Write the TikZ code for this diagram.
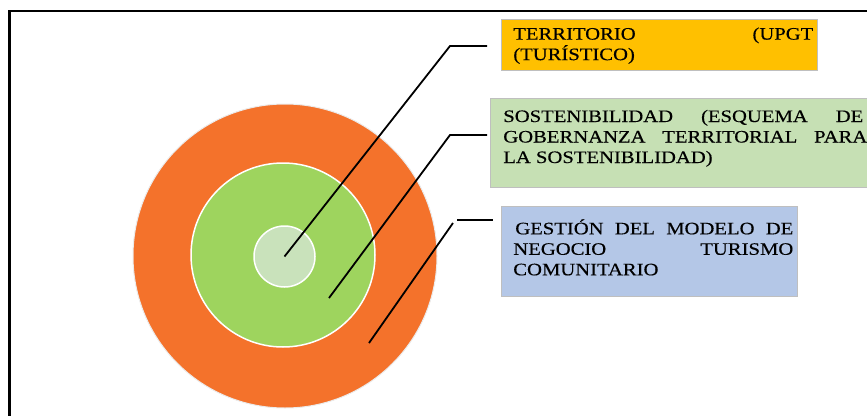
\documentclass[tikz,border=0pt]{standalone}
\usepackage{fontspec}
\setmainfont{Liberation Serif}[FakeStretch=1.18,FakeBold=0.4]
\definecolor{orangec}{HTML}{F4722B}
\definecolor{greenc}{HTML}{9ED45E}
\definecolor{palegreen}{HTML}{C9E2BB}
\definecolor{yellowc}{HTML}{FFC000}
\definecolor{boxgreen}{HTML}{C6E0B4}
\definecolor{boxblue}{HTML}{B4C7E7}
\begin{document}
\begin{tikzpicture}[x=1pt,y=-1pt,
  ring/.style={circle, inner sep=0pt, draw=white, line width=1.5pt},
  infobox/.style={rectangle, anchor=north west, inner sep=0pt, draw=black!25, line width=0.6pt,
     font=\fontsize{17.5pt}{20.5pt}\selectfont},
  leader/.style={draw=black, line width=1.8pt}]
\useasboundingbox (0,0) rectangle (867,415);
\clip (0,0) rectangle (867,415);
% frame
\draw[line width=2.5pt] (9.5,440) -- (9.5,11) -- (900,11);
% circles
\node[ring, fill=orangec, draw=black!8, line width=1pt, minimum size=304pt] (outer) at (285,256) {};
\node[ring, fill=greenc, minimum size=184pt] (middle) at (283,255) {};
\node[ring, fill=palegreen, minimum size=61pt] (inner) at (284.5,256.5) {};
% boxes
\node[infobox, fill=yellowc] (b1) at (501,19) {\parbox[t][51pt][t]{316pt}{\baselineskip=20.5pt
  \rule{0pt}{20.3pt}\hspace*{12pt}\makebox[300pt][s]{TERRITORIO (UPGT}\par
  \hspace*{12pt}(TURÍSTICO)}};
\node[infobox, fill=boxgreen] (b2) at (490,98) {\parbox[t][89pt][t]{400pt}{\baselineskip=20.5pt
  \rule{0pt}{23.7pt}\hspace*{13pt}\makebox[360pt][s]{SOSTENIBILIDAD (ESQUEMA DE}\par
  \hspace*{13pt}\makebox[364pt][s]{GOBERNANZA TERRITORIAL PARA}\par
  \hspace*{13pt}LA SOSTENIBILIDAD)}};
\node[infobox, fill=boxblue] (b3) at (501,206) {\parbox[t][90pt][t]{296pt}{\baselineskip=20.5pt
  \rule{0pt}{28pt}\hspace*{12pt}\makebox[280pt][s]{\hspace*{2pt}GESTIÓN DEL MODELO DE}\par
  \hspace*{12pt}\makebox[280pt][s]{NEGOCIO TURISMO}\par
  \hspace*{12pt}COMUNITARIO}};
% leader lines
\coordinate (k1) at (450,46);
\coordinate (s1) at (487,46);
\coordinate (a2) at (329,298);
\coordinate (k2) at (450,135);
\coordinate (s2) at (487,135);
\coordinate (a3) at (369,343);
\coordinate (k3) at (453,223);
\coordinate (t3) at (457,220);
\coordinate (s3) at (493,220);
\draw[leader] (inner.center) -- (k1) -- (s1);
\draw[leader] (a2) -- (k2) -- (s2);
\draw[leader] (a3) -- (k3);
\draw[leader] (t3) -- (s3);
\end{tikzpicture}
\end{document}
